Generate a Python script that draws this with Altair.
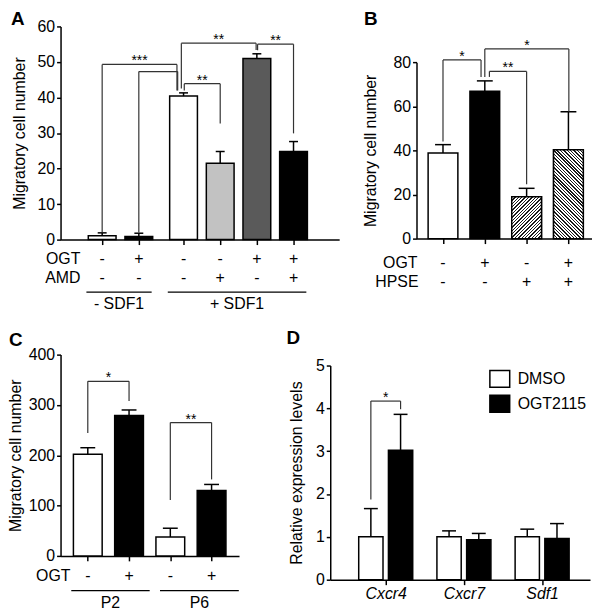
import altair as alt
import pandas as pd

FONT = "Liberation Sans"
LINE = "#333333"

# ---------------- Panel A data ----------------
a_ogt = ["-", "+", "-", "-", "+", "+"]
a_amd = ["-", "-", "-", "+", "-", "+"]
a_sdf1 = ["- SDF1", "- SDF1", "+ SDF1", "+ SDF1", "+ SDF1", "+ SDF1"]
a_groups = ["- SDF1", "+ SDF1"]
a_mean = [1.1, 0.85, 40.4, 21.5, 51.0, 24.8]
a_upper = [1.9, 1.8, 41.3, 24.8, 52.3, 27.6]
a_yticks = [0, 10, 20, 30, 40, 50, 60]
# significance brackets (x in bar-slot units, y in data units)
a_br_from = [1.0, 2.0, 3.24, 3.16, 5.24]
a_br_to = [3.04, 3.06, 4.22, 5.20, 6.22]
a_br_top = [49.3, 47.3, 43.9, 55.3, 55.0]
a_br_from_end = [2.0, 2.0, 42.0, 42.5, 53.3]
a_br_to_end = [42.0, 42.0, 32.7, 53.4, 29.9]
a_br_label = ["***", "", "**", "**", "**"]

# ---------------- Panel B data ----------------
b_ogt = ["-", "+", "-", "+"]
b_hpse = ["-", "-", "+", "+"]
b_mean = [38.8, 66.8, 19.0, 40.3]
b_upper = [42.6, 71.5, 22.8, 57.5]
b_yticks = [0, 20, 40, 60, 80]
b_br_from = [0.5, 1.5, 1.61]
b_br_to = [1.41, 3.51, 2.5]
b_br_top = [81.0, 86.0, 75.8]
b_br_from_end = [44.0, 73.3, 73.3]
b_br_to_end = [73.3, 57.5, 24.7]
b_br_label = ["*", "*", "**"]

# ---------------- Panel C data ----------------
c_ogt = ["-", "+", "-", "+"]
c_passage = ["P2", "P2", "P6", "P6"]
c_groups = ["P2", "P6"]
c_mean = [202, 279, 37.6, 130]
c_upper = [215, 290, 55, 142]
c_yticks = [0, 100, 200, 300, 400]
c_br_from = [0.5, 2.5]
c_br_to = [1.5, 3.5]
c_br_top = [347, 265]
c_br_from_end = [244, 111]
c_br_to_end = [308, 152]
c_br_label = ["*", "**"]

# ---------------- Panel D data ----------------
d_genes = ["Cxcr4", "Cxcr7", "Sdf1"]
d_treat = ["DMSO", "OGT2115"]
d_dmso = [1.0, 1.0, 1.0]
d_dmso_upper = [1.66, 1.14, 1.18]
d_ogt = [3.02, 0.93, 0.96]
d_ogt_upper = [3.86, 1.08, 1.31]
d_yticks = [0, 1, 2, 3, 4, 5]
d_br_from = [0.81]
d_br_to = [1.19]
d_br_top = [4.17]
d_br_from_end = [1.87]
d_br_to_end = [3.98]
d_br_label = ["*"]

# ---------------- styles ----------------
a_fill = ["white", "black", "white", "#c2c2c2", "#5a5a5a", "black"]
b_fill = ["white", "black", "white", "white"]
c_fill = ["white", "black", "white", "black"]
d_fill = ["white", "black"]


def text_at(t, x, y, size=16, weight="normal", align="left", baseline="alphabetic", style="normal"):
    return alt.Chart(pd.DataFrame({"t": [t]})).mark_text(
        font=FONT, fontSize=size, fontWeight=weight, align=align, baseline=baseline,
        fontStyle=style, color="black"
    ).encode(text="t:N", x=alt.value(x), y=alt.value(y))


def brackets(xl, xr, top, lend, rend, labels, xs, ys, xax, yax):
    df = pd.DataFrame({"xl": xl, "xr": xr, "top": top, "lend": lend, "rend": rend, "label": labels})
    df["mid"] = (df["xl"] + df["xr"]) / 2
    b = alt.Chart(df)
    X = lambda f: alt.X(f, scale=xs, axis=xax)
    Y = lambda f: alt.Y(f, scale=ys, axis=yax)
    h = b.mark_rule(color=LINE, strokeWidth=1.2).encode(x=X("xl:Q"), x2="xr:Q", y=Y("top:Q"))
    l = b.mark_rule(color=LINE, strokeWidth=1.2).encode(x=X("xl:Q"), y=Y("lend:Q"), y2="top:Q")
    r = b.mark_rule(color=LINE, strokeWidth=1.2).encode(x=X("xr:Q"), y=Y("rend:Q"), y2="top:Q")
    t = b.mark_text(font=FONT, fontSize=14, baseline="alphabetic", dy=1, color="black").encode(
        x=X("mid:Q"), y=Y("top:Q"), text="label:N")
    return [h, l, r, t]


def errbars(base, xs, ys, xax, yax, cap):
    e = base.mark_rule(color="black", strokeWidth=1.5).encode(
        x=alt.X("pos:Q", scale=xs, axis=xax), y=alt.Y("mean:Q", scale=ys, axis=yax), y2="upper:Q")
    c = base.mark_tick(orient="horizontal", size=cap, thickness=1.5, color="black", opacity=1).encode(
        x=alt.X("pos:Q", scale=xs, axis=xax), y=alt.Y("upper:Q", scale=ys, axis=yax))
    return [e, c]


def y_axis(values, title, tx, ty):
    return alt.Axis(values=values, title=title, titleX=tx, titleY=ty, titleAngle=270,
                    titleAlign="center", titleBaseline="middle", tickSize=4)


def x_axis(values, **kw):
    return alt.Axis(values=values, title=None, tickSize=5, **kw)


def hatch_fill(h_px, w_px, direction, period=3.4, dark=0.42, col="#1a1a1a"):
    k = h_px / w_px
    denom = w_px * (1 + k * k)
    p = period / denom
    tmax = (w_px + h_px) / denom
    stops = []
    t = 0.0
    while t < tmax + p and t < 1:
        a = round(min(t, 1), 5)
        b = round(min(t + dark * p, 1), 5)
        c = round(min(t + p, 1), 5)
        stops += [{"offset": a, "color": col}, {"offset": b, "color": col},
                  {"offset": b, "color": "white"}, {"offset": c, "color": "white"}]
        t += p
    if direction == "/":
        x1, y1, x2, y2 = 0, 0, 1, k
    else:
        x1, y1, x2, y2 = 0, 1, 1, 1 - k
    return {"gradient": "linear", "x1": x1, "y1": y1, "x2": x2, "y2": y2, "stops": stops}


def row_text(base, field, xs, xax, y):
    return base.mark_text(font=FONT, fontSize=16, baseline="alphabetic", color="black").encode(
        x=alt.X("pos:Q", scale=xs, axis=xax), y=alt.value(y), text=field + ":N")


# ================= Panel A =================
WA, HA = 281, 215
a_pos = [i + 1 + (0.22 if g == "+ SDF1" else 0) for i, g in enumerate(a_sdf1)]
xsA = alt.Scale(domain=[0, 7.33], nice=False, zero=False)
ysA = alt.Scale(domain=[0, 60], nice=False)
xaxA = x_axis(a_pos, labels=False)
yaxA = y_axis(a_yticks, "Migratory cell number", -41.5, HA / 2)
dfA = pd.DataFrame({"pos": a_pos, "mean": a_mean, "upper": a_upper, "ogt": a_ogt,
                    "amd": a_amd, "fill": a_fill})
baseA = alt.Chart(dfA)
barsA = baseA.mark_bar(size=28, stroke="black", strokeWidth=1.5).encode(
    x=alt.X("pos:Q", scale=xsA, axis=xaxA),
    y=alt.Y("mean:Q", scale=ysA, axis=yaxA),
    fill=alt.Fill("fill:N", scale=None))
gA = pd.DataFrame({"g": a_groups})
gA["start"] = [min(p for p, s in zip(a_pos, a_sdf1) if s == g) - 0.43 for g in a_groups]
gA["end"] = [max(p for p, s in zip(a_pos, a_sdf1) if s == g) + 0.35 for g in a_groups]
gA["mid"] = (gA["start"] + gA["end"]) / 2
grpA_line = alt.Chart(gA).mark_rule(color="black", strokeWidth=1.2).encode(
    x=alt.X("start:Q", scale=xsA, axis=xaxA), x2="end:Q", y=alt.value(HA + 53))
grpA_text = alt.Chart(gA).mark_text(font=FONT, fontSize=16, baseline="alphabetic", color="black").encode(
    x=alt.X("mid:Q", scale=xsA, axis=xaxA), y=alt.value(HA + 70), text="g:N")
panelA = alt.layer(
    barsA, *errbars(baseA, xsA, ysA, xaxA, yaxA, 9),
    *brackets(a_br_from, a_br_to, a_br_top, a_br_from_end, a_br_to_end, a_br_label, xsA, ysA, xaxA, yaxA),
    row_text(baseA, "ogt", xsA, xaxA, HA + 25), row_text(baseA, "amd", xsA, xaxA, HA + 44),
    grpA_line, grpA_text,
    text_at("OGT", 20, HA + 25, align="right"), text_at("AMD", 20, HA + 44, align="right"),
    text_at("A", -50, -16, size=19, weight="bold", baseline="top"),
).properties(width=WA, height=HA)

# ================= Panel B =================
# frame shares its top with panel A; the value range starts lower down
WB, HB, TB = 177, 214, 36
b_pos = [i + 0.5 for i in range(len(b_mean))]
xsB = alt.Scale(domain=[-0.015, 3.945], nice=False, zero=False)
ysB = alt.Scale(domain=[0, 80], nice=False, range=[HB, TB])
xaxB = x_axis(b_pos, labels=False)
yaxB = y_axis(b_yticks, "Migratory cell number", -46, (HB + TB) / 2)
dfB = pd.DataFrame({"pos": b_pos, "mean": b_mean, "upper": b_upper, "ogt": b_ogt,
                    "hpse": b_hpse, "fill": b_fill})
baseB = alt.Chart(dfB)
barsB = baseB.mark_bar(size=30, stroke="black", strokeWidth=1.5).encode(
    x=alt.X("pos:Q", scale=xsB, axis=xaxB),
    y=alt.Y("mean:Q", scale=ysB, axis=yaxB),
    fill=alt.Fill("fill:N", scale=None))
hatch_layers = []
for idx, d in [(2, "/"), (3, "\\")]:
    hpx = b_mean[idx] / 80 * (HB - TB)
    hatch_layers.append(
        alt.Chart(dfB.iloc[[idx]]).mark_bar(size=30, stroke="black", strokeWidth=1.5,
                                             fill=hatch_fill(hpx, 30, d)).encode(
            x=alt.X("pos:Q", scale=xsB, axis=xaxB), y=alt.Y("mean:Q", scale=ysB, axis=yaxB)))
panelB = alt.layer(
    barsB, *hatch_layers, *errbars(baseB, xsB, ysB, xaxB, yaxB, 16),
    *brackets(b_br_from, b_br_to, b_br_top, b_br_from_end, b_br_to_end, b_br_label, xsB, ysB, xaxB, yaxB),
    row_text(baseB, "ogt", xsB, xaxB, HB + 30), row_text(baseB, "hpse", xsB, xaxB, HB + 49),
    text_at("OGT", 1, HB + 30, align="right"), text_at("HPSE", 2, HB + 49, align="right"),
    text_at("B", -53, -16, size=19, weight="bold", baseline="top"),
).properties(width=WB, height=HB)

# ================= Panel C =================
WC, HC = 180, 203
c_pos = [i + 0.5 for i in range(len(c_mean))]
xsC = alt.Scale(domain=[-0.04, 4.045], nice=False, zero=False)
ysC = alt.Scale(domain=[0, 400], nice=False)
xaxC = x_axis(c_pos, labels=False)
yaxC = y_axis(c_yticks, "Migratory cell number", -45, HC / 2)
dfC = pd.DataFrame({"pos": c_pos, "mean": c_mean, "upper": c_upper, "ogt": c_ogt, "fill": c_fill})
baseC = alt.Chart(dfC)
barsC = baseC.mark_bar(size=29, stroke="black", strokeWidth=1.5).encode(
    x=alt.X("pos:Q", scale=xsC, axis=xaxC),
    y=alt.Y("mean:Q", scale=ysC, axis=yaxC),
    fill=alt.Fill("fill:N", scale=None))
gC = pd.DataFrame({"g": c_groups})
gC["start"] = [min(p for p, s in zip(c_pos, c_passage) if s == g) for g in c_groups]
gC["end"] = [max(p for p, s in zip(c_pos, c_passage) if s == g) for g in c_groups]
gC["start"] = gC["start"] - [0.4, 0.25]
gC["end"] = gC["end"] + [0.5, 0.66]
gC["mid"] = (gC["start"] + gC["end"]) / 2
grpC_line = alt.Chart(gC).mark_rule(color="black", strokeWidth=1.2).encode(
    x=alt.X("start:Q", scale=xsC, axis=xaxC), x2="end:Q", y=alt.value(HC + 35))
grpC_text = alt.Chart(gC).mark_text(font=FONT, fontSize=16, baseline="alphabetic", color="black").encode(
    x=alt.X("mid:Q", scale=xsC, axis=xaxC), y=alt.value(HC + 53), text="g:N")
panelC = alt.layer(
    barsC, *errbars(baseC, xsC, ysC, xaxC, yaxC, 15),
    *brackets(c_br_from, c_br_to, c_br_top, c_br_from_end, c_br_to_end, c_br_label, xsC, ysC, xaxC, yaxC),
    row_text(baseC, "ogt", xsC, xaxC, HC + 25), grpC_line, grpC_text,
    text_at("OGT", 10, HC + 25, align="right"),
    text_at("C", -52, -24, size=19, weight="bold", baseline="top"),
).properties(width=WC, height=HC)

# ================= Panel D =================
# frame shares its top with panel C; the value range starts lower down
WD, HD, TD = 262, 227, 11
rows = []
for gi, g in enumerate(d_genes):
    for ti, t in enumerate(d_treat):
        m = d_dmso[gi] if ti == 0 else d_ogt[gi]
        u = d_dmso_upper[gi] if ti == 0 else d_ogt_upper[gi]
        rows.append({"gene": g, "treat": t, "pos": gi + 1 + (-0.19 if ti == 0 else 0.19),
                     "mean": m, "upper": u, "fill": d_fill[ti]})
dfD = pd.DataFrame(rows)
xsD = alt.Scale(domain=[0.354, 3.549], nice=False, zero=False)
ysD = alt.Scale(domain=[0, 5], nice=False, range=[HD, TD])
gene_expr = "[" + ",".join("'%s'" % g for g in d_genes) + "][datum.value - 1]"
xaxD = x_axis([1, 2, 3], labelExpr=gene_expr, labelFontStyle="italic", labelPadding=1)
yaxD = y_axis(d_yticks, "Relative expression levels", -33.5, (HD + TD) / 2)
baseD = alt.Chart(dfD)
barsD = baseD.mark_bar(size=24.5, stroke="black", strokeWidth=1.5).encode(
    x=alt.X("pos:Q", scale=xsD, axis=xaxD),
    y=alt.Y("mean:Q", scale=ysD, axis=yaxD),
    fill=alt.Fill("fill:N", scale=None))
legend_layers = []
for i, (lab, col) in enumerate(zip(d_treat, d_fill)):
    y0 = TD + 5 + 25 * i
    legend_layers.append(alt.Chart(pd.DataFrame({"t": [lab]})).mark_rect(
        fill=col, stroke="black", strokeWidth=1.5).encode(
        x=alt.value(161), x2=alt.value(181), y=alt.value(y0), y2=alt.value(y0 + 17)))
    legend_layers.append(text_at(lab, 189, y0 + 8.5, baseline="middle"))
panelD = alt.layer(
    barsD, *errbars(baseD, xsD, ysD, xaxD, yaxD, 14),
    *brackets(d_br_from, d_br_to, d_br_top, d_br_from_end, d_br_to_end, d_br_label, xsD, ysD, xaxD, yaxD),
    *legend_layers,
    text_at("D", -44, -26, size=19, weight="bold", baseline="top"),
).properties(width=WD, height=HD)

row1 = alt.hconcat(panelA, panelB, spacing=78, bounds="flush")
row2 = alt.hconcat(panelC, panelD, spacing=92, bounds="flush")
chart = alt.vconcat(row1, row2, spacing=17).properties(
    padding=0, background="white"
).configure_view(stroke=None).configure_axis(
    grid=False, domainColor="black", domainWidth=1.5, tickColor="black", tickWidth=1.5,
    labelFont=FONT, labelFontSize=16, labelColor="black", labelPadding=2,
    titleFont=FONT, titleFontSize=16, titleFontWeight="normal", titleColor="black"
)

chart.save("out.html", embed_options={"renderer": "svg", "actions": False})
